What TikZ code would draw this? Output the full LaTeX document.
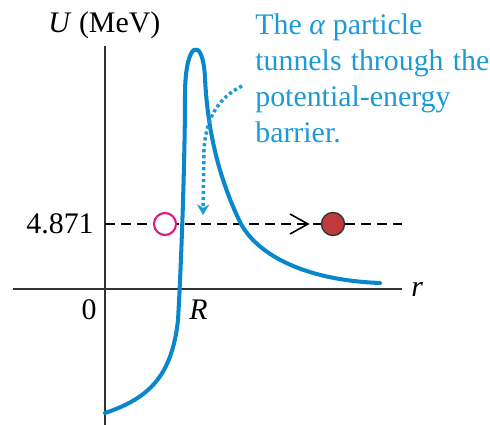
\documentclass[tikz,border=0pt]{standalone}
\usepackage{fontspec}
\setmainfont{Liberation Serif}
\usetikzlibrary{arrows.meta}
\definecolor{curveblue}{RGB}{10,135,204}
\definecolor{textblue}{RGB}{28,154,214}
\definecolor{axisgray}{RGB}{50,50,50}
\definecolor{ringmag}{RGB}{225,25,125}
\definecolor{ballred}{RGB}{192,57,59}
\tikzset{
  axisline/.style={draw=axisgray,line width=1.1pt},
  lbl/.style={inner sep=0pt,font=\fontsize{17}{20}\selectfont,text=black},
  note/.style={inner sep=0pt,font=\fontsize{17}{20}\selectfont,text=textblue},
  potcurve/.style={draw=curveblue,line width=2.3pt,line cap=round,line join=round},
  energy/.style={draw=black,line width=0.9pt,dash pattern=on 5.7pt off 3.4pt},
}
\begin{document}
\begin{tikzpicture}[x=0.02cm,y=-0.02cm]
\useasboundingbox (0,0) rectangle (490,425);
% axes
\coordinate (ytop) at (105,46);
\coordinate (ybot) at (105,425);
\coordinate (xl) at (13,289);
\coordinate (xr) at (402,289);
\draw[axisline] (ybot) -- (ytop);
\draw[axisline] (xl) -- (xr);
% energy level line
\coordinate (el) at (105,224);
\coordinate (er) at (402,224);
\draw[energy] (el) -- (er);
\coordinate (chev) at (308,224);
\draw[black,line width=0.9pt] ([shift={(-18,-10)}]chev) -- (chev) -- ([shift={(-18,10)}]chev);
% potential curve
\coordinate (c0) at (105,413);
\coordinate (c1) at (178,320);
\coordinate (c2) at (185,95);
\coordinate (c3) at (205,78);
\coordinate (c4) at (240,222);
\coordinate (c5) at (380,283);
\draw[potcurve] (c0) .. controls (150,398) and (172,375) .. (c1)
  .. controls (181,270) and (185,160) .. (c2)
  .. controls (185,40) and (203,35) .. (c3)
  .. controls (207,120) and (215,170) .. (c4)
  .. controls (255,252) and (300,280) .. (c5);
% particles
\node[circle,draw=ringmag,line width=1.2pt,fill=white,inner sep=0pt,minimum size=0.44cm] (ring) at (165,224) {};
\node[circle,draw=black!80,line width=0.8pt,fill=ballred,inner sep=0pt,minimum size=0.46cm] (ball) at (333,224) {};
% labels
\node[lbl,anchor=base west] (ulab) at (48,33) {\textit{U} (MeV)};
\node[lbl,anchor=base east] (elab) at (94,234) {4.871};
\node[lbl,anchor=base east] (zlab) at (97,320) {0};
\node[lbl,anchor=base west] (rlab) at (189,320) {\textit{R}};
\node[lbl,anchor=base west] (xlab) at (411,297) {\textit{r}};
% note text
\node[note,anchor=base west] (t1) at (255,35) {The \textit{α} particle};
\node[note,anchor=base west] (t2) at (255,71) {tunnels\hspace{5.2pt}through\hspace{5.2pt}the};
\node[note,anchor=base west] (t3) at (255,107) {potential-energy};
\node[note,anchor=base west] (t4) at (255,143) {barrier.};
% dotted arrow
\coordinate (as) at (242,86);
\coordinate (ae) at (203,215);
\draw[draw=textblue,line width=2pt,dash pattern=on 1.8pt off 1.6pt,
  -{Stealth[length=6pt,width=7pt,fill=textblue]}]
  (as) .. controls (218,98) and (206,118) .. (204,150) -- (ae);
\end{tikzpicture}
\end{document}
